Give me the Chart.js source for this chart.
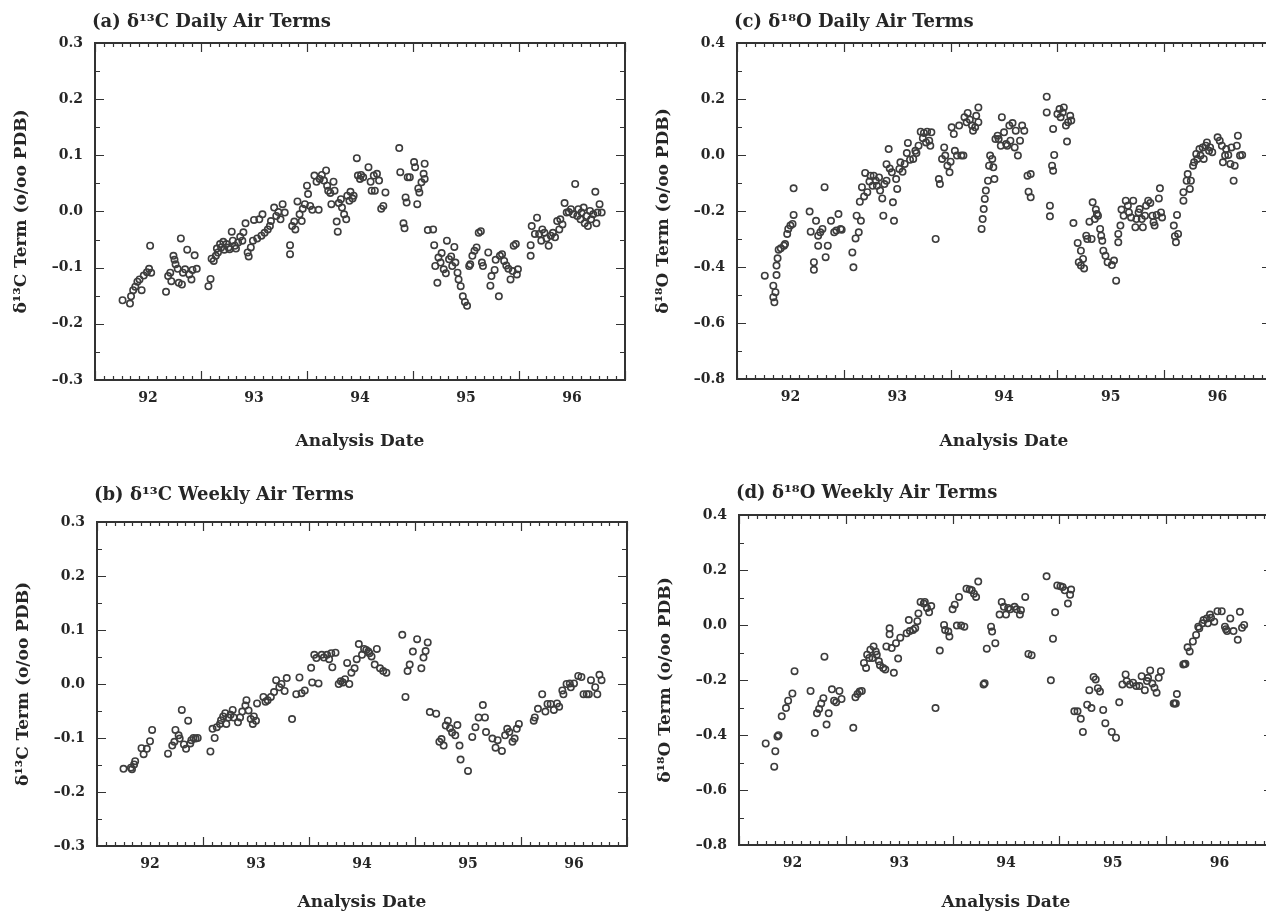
<!DOCTYPE html>
<html lang="en">
<head>
<meta charset="UTF-8">
<title>δ13C and δ18O Air Terms</title>
<script src="https://cdn.jsdelivr.net/npm/chart.js"></script>
<style>
    html, body { margin: 0; padding: 0; background: #fff; overflow: hidden; }
    body { width: 1266px; height: 913px; position: relative; }
    canvas { position: absolute; }
</style>
</head>
<body>
<canvas id="panelA"></canvas>
<canvas id="panelB"></canvas>
<canvas id="panelC"></canvas>
<canvas id="panelD"></canvas>
<script>
// axis labels
const yearLabels = [92, 93, 94, 95, 96]
const carbonTicks = [-0.3, -0.2, -0.1, 0, 0.1, 0.2, 0.3]
const oxygenTicks = [-0.8, -0.6, -0.4, -0.2, 0, 0.2, 0.4]

// (a) daily d13C air terms
const dailyC13Year = [
    91.76,91.83,91.84,91.86,91.88,91.90,91.92,91.94,91.96,91.99,92.01,92.02,92.03,
    92.17,92.19,92.21,92.22,92.24,92.25,92.26,92.28,92.29,92.31,92.32,92.33,92.35,92.37,92.39,92.41,92.42,92.44,92.46,
    92.57,92.59,92.60,92.62,92.64,92.65,92.66,92.68,92.69,92.71,92.72,92.74,92.76,92.77,92.79,92.80,92.82,92.83,92.85,92.87,92.89,92.90,92.92,92.94,92.95,92.97,92.99,93.00,93.03,93.05,93.07,93.08,93.10,93.13,93.15,93.16,93.19,93.21,93.23,93.25,93.27,93.29,
    93.34,93.34,93.36,93.38,93.39,93.41,93.43,93.45,93.46,93.48,93.50,93.51,93.53,93.55,93.57,93.59,93.61,93.62,93.64,93.66,93.68,93.69,93.70,93.72,93.73,93.75,93.76,93.78,93.79,93.80,93.82,93.83,93.85,93.87,93.88,93.90,93.91,93.93,93.94,
    93.97,93.98,94.00,94.01,94.03,94.08,94.10,94.11,94.13,94.14,94.16,94.18,94.20,94.22,94.24,
    94.37,94.38,94.41,94.42,94.43,94.44,94.45,94.47,94.51,94.52,94.54,94.55,94.56,94.58,94.60,94.61,94.61,
    94.64,94.69,94.70,94.71,94.73,94.74,94.76,94.77,94.79,94.81,94.82,94.84,94.86,94.87,94.89,94.90,94.92,94.93,94.95,94.97,94.99,95.01,
    95.03,95.04,95.06,95.08,95.10,95.12,95.14,95.15,95.16,
    95.21,95.23,95.24,95.27,95.28,95.31,95.32,95.34,95.36,95.38,95.40,95.42,95.44,95.45,95.47,95.48,95.49,
    95.61,95.61,95.62,95.65,95.67,95.69,95.71,95.72,95.74,95.76,95.78,95.80,95.82,95.84,95.86,95.88,95.89,95.91,95.93,95.95,
    95.97,95.99,96.01,96.03,96.05,96.06,96.08,96.09,96.11,96.12,96.14,96.15,96.17,96.18,96.20,96.22,96.23,96.24,96.26,96.28
]
const dailyC13Term = [
    -0.158,-0.164,-0.151,-0.140,-0.134,-0.125,-0.121,-0.140,-0.114,-0.108,-0.102,-0.061,-0.109,
    -0.143,-0.115,-0.109,-0.124,-0.079,-0.086,-0.094,-0.102,-0.127,-0.048,-0.130,-0.109,-0.103,-0.068,-0.112,-0.121,-0.104,-0.078,-0.102,
    -0.133,-0.120,-0.084,-0.088,-0.079,-0.066,-0.073,-0.058,-0.064,-0.054,-0.068,-0.058,-0.064,-0.067,-0.036,-0.052,-0.061,-0.066,-0.055,-0.045,-0.052,-0.037,-0.021,-0.073,-0.080,-0.064,-0.052,-0.015,-0.048,-0.014,-0.043,-0.005,-0.038,-0.032,-0.026,-0.017,0.007,-0.008,-0.001,-0.014,0.013,-0.002,
    -0.060,-0.076,-0.026,-0.018,-0.032,0.018,-0.005,-0.017,0.005,0.013,0.046,0.031,0.010,0.003,0.064,0.053,0.003,0.058,0.065,0.055,0.073,0.046,0.037,0.033,0.013,0.053,0.037,-0.018,-0.036,0.015,0.022,0.007,-0.005,-0.014,0.028,0.019,0.035,0.023,0.028,
    0.095,0.064,0.058,0.065,0.061,0.079,0.053,0.037,0.064,0.037,0.067,0.055,0.005,0.010,0.034,
    0.113,0.070,-0.021,-0.030,0.025,0.016,0.061,0.061,0.088,0.079,0.013,0.041,0.034,0.052,0.067,0.085,0.058,
    -0.033,-0.032,-0.060,-0.097,-0.127,-0.082,-0.091,-0.074,-0.103,-0.110,-0.052,-0.085,-0.080,-0.097,-0.063,-0.091,-0.109,-0.121,-0.133,-0.151,-0.161,-0.168,
    -0.097,-0.094,-0.079,-0.070,-0.064,-0.038,-0.035,-0.091,-0.097,
    -0.073,-0.132,-0.115,-0.104,-0.086,-0.151,-0.079,-0.076,-0.088,-0.096,-0.102,-0.121,-0.106,-0.061,-0.058,-0.112,-0.103,
    -0.060,-0.079,-0.026,-0.040,-0.011,-0.040,-0.052,-0.032,-0.038,-0.048,-0.061,-0.043,-0.038,-0.046,-0.017,-0.032,-0.014,-0.023,0.015,-0.002,
    -0.001,0.004,-0.005,0.049,-0.008,0.004,-0.014,-0.002,0.007,-0.021,-0.008,-0.026,0.001,-0.014,-0.005,0.035,-0.021,-0.002,0.013,-0.002
]

// (b) weekly d13C air terms
const weeklyC13Year = [
    91.75,91.82,91.83,91.85,91.86,91.92,91.94,91.97,92.00,92.02,
    92.17,92.21,92.23,92.24,92.27,92.28,92.30,92.32,92.34,92.36,92.38,92.39,92.41,92.43,92.45,
    92.57,92.59,92.61,92.63,92.66,92.67,92.69,92.71,92.72,92.74,92.76,92.78,92.79,92.83,92.85,92.87,92.90,92.91,92.93,92.95,92.97,92.98,93.00,93.01,93.07,93.09,93.11,93.14,93.17,93.19,93.22,93.24,93.27,93.29,
    93.34,93.38,93.41,93.43,93.46,93.52,93.53,93.55,93.57,93.59,93.62,93.64,93.67,93.69,93.71,93.72,93.75,
    93.78,93.80,93.82,93.84,93.86,93.88,93.90,93.93,93.95,93.97,94.00,94.02,94.04,94.06,94.07,94.09,94.12,94.14,94.17,94.20,94.23,
    94.38,94.41,94.43,94.45,94.48,94.52,94.56,94.58,94.60,94.62,
    94.64,94.70,94.73,94.75,94.77,94.79,94.81,94.83,94.85,94.88,94.90,94.92,94.93,95.00,
    95.04,95.07,95.10,95.14,95.16,95.17,95.23,95.26,95.28,95.32,95.35,95.37,95.39,95.42,95.44,95.46,95.48,
    95.62,95.63,95.66,95.70,95.73,95.75,95.78,95.81,95.84,95.86,95.89,95.90,95.93,95.96,95.97,96.00,96.04,96.07,96.09,96.12,96.14,96.16,96.20,96.22,96.24,96.26
]
const weeklyC13Term = [
    -0.157,-0.155,-0.158,-0.149,-0.143,-0.119,-0.130,-0.120,-0.106,-0.085,
    -0.129,-0.114,-0.107,-0.085,-0.095,-0.101,-0.048,-0.112,-0.120,-0.068,-0.110,-0.104,-0.100,-0.101,-0.100,
    -0.125,-0.083,-0.100,-0.080,-0.074,-0.067,-0.060,-0.054,-0.074,-0.062,-0.057,-0.048,-0.062,-0.071,-0.062,-0.051,-0.040,-0.030,-0.049,-0.065,-0.074,-0.060,-0.068,-0.036,-0.024,-0.033,-0.030,-0.024,-0.015,0.007,-0.006,0.000,-0.013,0.011,
    -0.065,-0.019,0.012,-0.017,-0.012,0.030,0.003,0.054,0.048,0.001,0.054,0.049,0.054,0.046,0.057,0.031,0.058,
    0.000,0.005,0.003,0.009,0.039,0.000,0.021,0.029,0.046,0.074,0.054,0.065,0.063,0.060,0.057,0.051,0.036,0.065,0.029,0.024,0.021,
    0.091,-0.024,0.024,0.036,0.060,0.083,0.029,0.049,0.061,0.077,
    -0.052,-0.055,-0.107,-0.102,-0.114,-0.077,-0.068,-0.082,-0.090,-0.095,-0.076,-0.114,-0.140,-0.161,
    -0.098,-0.080,-0.062,-0.039,-0.062,-0.089,-0.101,-0.118,-0.104,-0.124,-0.095,-0.083,-0.089,-0.107,-0.101,-0.083,-0.074,
    -0.068,-0.062,-0.046,-0.019,-0.051,-0.037,-0.037,-0.048,-0.036,-0.042,-0.012,-0.019,0.000,0.001,-0.006,0.001,0.015,0.013,-0.019,-0.019,-0.019,0.007,-0.006,-0.019,0.017,0.007
]

// (c) daily d18O air terms
const dailyO18Year = [
    91.76,91.84,91.84,91.85,91.86,91.87,91.87,91.88,91.89,91.91,91.94,91.95,91.97,91.98,92.00,92.02,92.03,92.03,
    92.18,92.19,92.22,92.22,92.24,92.26,92.26,92.28,92.30,92.32,92.33,92.35,92.38,92.41,92.43,92.45,92.47,92.48,
    92.58,92.59,92.61,92.62,92.64,92.65,92.66,92.67,92.69,92.70,92.72,92.74,92.75,92.77,92.78,92.80,92.81,92.83,92.84,92.86,92.87,92.88,92.90,92.90,92.92,92.93,92.95,92.96,92.97,92.99,93.00,93.02,93.03,93.05,93.07,93.09,93.10,93.12,93.15,93.17,93.18,93.20,93.22,93.24,93.25,93.27,93.28,93.30,93.31,93.32,
    93.36,93.39,93.40,93.42,93.44,93.45,93.47,93.49,93.50,93.51,93.53,93.54,93.56,93.58,93.60,93.62,93.63,93.65,93.66,93.68,93.70,93.71,93.73,93.74,93.76,93.76,
    93.79,93.80,93.81,93.82,93.83,93.85,93.86,93.87,93.89,93.90,93.91,93.92,93.94,93.95,93.97,93.98,94.00,94.02,94.03,94.05,94.06,94.08,94.10,94.11,94.13,94.15,94.17,94.19,
    94.22,94.23,94.25,94.25,
    94.40,94.40,94.43,94.43,94.45,94.46,94.46,94.47,94.50,94.52,94.53,94.55,94.56,94.58,94.59,94.60,94.62,94.63,
    94.65,94.69,94.70,94.72,94.72,94.74,94.75,94.77,94.78,94.80,94.82,94.83,94.85,94.86,94.87,94.88,94.90,94.91,94.92,94.93,94.95,94.97,95.01,95.03,95.05,
    95.07,95.07,95.09,95.10,95.12,95.14,95.16,95.17,95.19,95.21,95.23,95.24,95.26,95.27,95.29,95.30,95.32,95.33,95.35,95.37,95.39,95.40,95.41,95.43,95.45,95.46,95.47,95.48,
    95.59,95.60,95.61,95.62,95.63,95.68,95.68,95.71,95.72,95.74,95.75,95.77,95.78,95.80,95.81,95.83,95.84,95.86,95.87,95.89,95.90,95.92,95.93,95.95,
    96.00,96.02,96.04,96.05,96.07,96.08,96.10,96.12,96.13,96.15,96.16,96.18,96.19,96.21,96.23
]
const dailyO18Term = [
    -0.431,-0.467,-0.508,-0.526,-0.490,-0.429,-0.395,-0.369,-0.338,-0.333,-0.324,-0.318,-0.282,-0.264,-0.252,-0.246,-0.214,-0.119,
    -0.202,-0.274,-0.383,-0.410,-0.235,-0.288,-0.324,-0.276,-0.264,-0.115,-0.365,-0.324,-0.235,-0.276,-0.270,-0.211,-0.264,-0.267,
    -0.348,-0.401,-0.298,-0.217,-0.276,-0.167,-0.235,-0.115,-0.148,-0.064,-0.133,-0.095,-0.074,-0.110,-0.074,-0.092,-0.110,-0.080,-0.127,-0.155,-0.217,-0.104,-0.092,-0.033,0.021,-0.048,-0.062,-0.169,-0.235,-0.086,-0.121,-0.050,-0.026,-0.060,-0.032,0.007,0.043,-0.017,-0.014,0.015,0.007,0.033,0.083,0.060,0.079,0.045,0.083,0.051,0.033,0.081,
    -0.300,-0.086,-0.104,-0.014,0.027,-0.002,-0.038,-0.062,-0.024,0.099,0.075,0.015,-0.002,0.105,-0.002,-0.002,0.135,0.117,0.150,0.126,0.105,0.087,0.099,0.140,0.170,0.117,
    -0.264,-0.229,-0.193,-0.157,-0.127,-0.092,-0.038,-0.002,-0.014,-0.044,-0.086,0.057,0.069,0.057,0.033,0.135,0.081,0.039,0.033,0.105,0.051,0.114,0.027,0.087,-0.002,0.051,0.105,0.087,
    -0.074,-0.131,-0.068,-0.151,
    0.208,0.152,-0.181,-0.219,-0.038,-0.056,0.093,0.000,0.146,0.164,0.135,0.152,0.170,0.105,0.048,0.117,0.140,0.123,
    -0.243,-0.314,-0.383,-0.342,-0.395,-0.371,-0.405,-0.288,-0.300,-0.238,-0.300,-0.169,-0.229,-0.195,-0.211,-0.217,-0.264,-0.288,-0.306,-0.342,-0.360,-0.383,-0.393,-0.377,-0.449,
    -0.312,-0.282,-0.252,-0.195,-0.217,-0.163,-0.181,-0.205,-0.223,-0.163,-0.258,-0.229,-0.205,-0.193,-0.229,-0.258,-0.217,-0.181,-0.163,-0.171,-0.217,-0.240,-0.252,-0.214,-0.155,-0.119,-0.205,-0.223,
    -0.252,-0.290,-0.312,-0.214,-0.282,-0.163,-0.133,-0.092,-0.068,-0.121,-0.092,-0.038,-0.026,0.004,-0.014,0.021,-0.002,0.027,-0.014,0.033,0.045,0.015,0.027,0.010,
    0.063,0.051,0.033,-0.026,-0.002,0.021,0.000,-0.032,0.027,-0.092,-0.038,0.033,0.069,-0.002,0.000
]

// (d) weekly d18O air terms
const weeklyO18Year = [
    91.75,91.83,91.84,91.86,91.87,91.90,91.94,91.96,92.00,92.02,
    92.17,92.21,92.23,92.25,92.27,92.29,92.30,92.32,92.34,92.37,92.39,92.41,92.44,92.46,
    92.57,92.59,92.61,92.63,92.65,92.67,92.69,92.70,92.72,92.73,92.75,92.76,92.78,92.79,92.81,92.82,92.85,92.87,92.88,92.91,92.91,92.93,92.95,92.97,92.99,93.01,93.07,93.09,93.10,93.13,93.15,93.17,93.18,93.20,93.23,93.24,93.26,93.28,93.30,
    93.34,93.38,93.42,93.43,93.46,93.47,93.50,93.52,93.54,93.56,93.58,93.61,93.63,93.66,93.68,93.70,93.72,93.74,
    93.79,93.80,93.82,93.86,93.87,93.90,93.94,93.96,93.98,94.00,94.02,94.04,94.08,94.10,94.13,94.14,94.18,94.21,94.24,
    94.38,94.42,94.44,94.46,94.48,94.51,94.53,94.55,94.58,94.60,94.61,
    94.64,94.67,94.70,94.72,94.76,94.78,94.80,94.82,94.84,94.86,94.88,94.91,94.93,94.99,95.03,
    95.06,95.09,95.12,95.13,95.16,95.19,95.22,95.25,95.27,95.30,95.32,95.33,95.35,95.37,95.39,95.41,95.43,95.45,
    95.57,95.58,95.59,95.60,95.66,95.67,95.68,95.70,95.72,95.75,95.78,95.80,95.81,95.84,95.85,95.88,95.89,95.91,95.92,95.95,95.98,96.02,96.05,96.06,96.07,96.10,96.13,96.17,96.19,96.21,96.23
]
const weeklyO18Term = [
    -0.431,-0.515,-0.459,-0.405,-0.401,-0.332,-0.302,-0.275,-0.249,-0.168,
    -0.240,-0.393,-0.321,-0.305,-0.285,-0.266,-0.115,-0.362,-0.321,-0.234,-0.275,-0.281,-0.240,-0.269,
    -0.374,-0.263,-0.251,-0.242,-0.240,-0.138,-0.156,-0.108,-0.120,-0.090,-0.120,-0.078,-0.096,-0.108,-0.132,-0.146,-0.156,-0.162,-0.078,-0.034,-0.012,-0.084,-0.174,-0.066,-0.122,-0.046,-0.030,0.018,-0.022,-0.018,-0.012,0.014,0.042,0.084,0.078,0.084,0.062,0.046,0.069,
    -0.302,-0.093,0.000,-0.018,-0.024,-0.042,0.057,0.074,-0.002,0.102,-0.002,-0.006,0.132,0.129,0.126,0.114,0.102,0.158,
    -0.216,-0.212,-0.086,-0.006,-0.024,-0.066,0.038,0.084,0.066,0.038,0.062,0.057,0.066,0.057,0.038,0.054,0.102,-0.105,-0.110,
    0.177,-0.201,-0.050,0.046,0.144,0.141,0.138,0.126,0.078,0.110,0.129,
    -0.314,-0.314,-0.341,-0.389,-0.290,-0.237,-0.302,-0.189,-0.198,-0.230,-0.242,-0.309,-0.357,-0.389,-0.410,
    -0.281,-0.216,-0.180,-0.204,-0.216,-0.210,-0.222,-0.222,-0.186,-0.237,-0.204,-0.192,-0.165,-0.213,-0.228,-0.246,-0.192,-0.168,
    -0.285,-0.285,-0.285,-0.251,-0.144,-0.142,-0.141,-0.081,-0.096,-0.060,-0.036,-0.006,-0.012,0.006,0.018,0.024,0.006,0.038,0.026,0.012,0.050,0.050,-0.006,-0.015,-0.022,0.024,-0.022,-0.054,0.048,-0.010,0.000
]

const serif = "'DejaVu Serif', 'Liberation Serif', serif"
const ink = '#262626'

// box frame with small inward ticks: months on x, half steps on y
const frameTicks = {
    id: 'frameTicks',
    afterDatasetsDraw(chart, args, opts) {
        const {ctx, chartArea: a} = chart
        const x = chart.scales.x, y = chart.scales.y
        ctx.save()
        ctx.strokeStyle = '#333'
        ctx.lineWidth = 1.2
        ctx.beginPath()
        for (let m = 0; m <= 60; m++) {
            const px = Math.round(x.getPixelForValue(x.min + m / 12)) + 0.5
            const len = m % 12 === 0 ? 9 : 4
            ctx.moveTo(px, a.bottom); ctx.lineTo(px, a.bottom - len)
            ctx.moveTo(px, a.top); ctx.lineTo(px, a.top + len)
        }
        const steps = Math.round((y.max - y.min) / opts.minorStep)
        for (let i = 0; i <= steps; i++) {
            const py = Math.round(y.getPixelForValue(y.min + i * opts.minorStep)) + 0.5
            const len = i % 2 === 0 ? 9 : 5
            ctx.moveTo(a.left, py); ctx.lineTo(a.left + len, py)
            ctx.moveTo(a.right, py); ctx.lineTo(a.right - len, py)
        }
        ctx.stroke()
        ctx.lineWidth = 2
        ctx.strokeRect(a.left, a.top, a.right - a.left, a.bottom - a.top)
        ctx.restore()
    }
}

// panel heading, left aligned with the plot box
const panelTitle = {
    id: 'panelTitle',
    afterDraw(chart, args, opts) {
        const ctx = chart.ctx
        ctx.save()
        ctx.fillStyle = ink
        ctx.font = 'bold 18px ' + serif
        ctx.textBaseline = 'middle'
        ctx.textAlign = 'left'
        ctx.fillText(opts.text, chart.chartArea.left - 3, chart.chartArea.top - opts.gap)
        ctx.restore()
    }
}

function fmt(v) {
    if (Math.abs(v) < 1e-9) return '0.0'
    return v < 0 ? '\u2013' + (-v).toFixed(1) : v.toFixed(1)
}

function makePanel(id, box, title, gap, dateGap, yTitle, years, terms, yTicks, minorStep) {
    const canvas = document.getElementById(id)
    const padL = 0, padT = 43, padR = 15, axisW = 95, axisH = 75
    canvas.style.left = (box.left - axisW) + 'px'
    canvas.style.top = (box.top - padT) + 'px'
    canvas.width = box.right - box.left + axisW + padR
    canvas.height = box.bottom - box.top + padT + axisH

    const points = years.map((yr, i) => ({x: yr, y: terms[i]}))

    new Chart(canvas, {
        type: 'scatter',
        data: {
            datasets: [{
                data: points,
                pointStyle: 'circle',
                pointRadius: 3.2,
                pointBorderWidth: 1.6,
                pointBorderColor: '#3d3d3d',
                pointBackgroundColor: 'rgba(0,0,0,0)'
            }]
        },
        options: {
            responsive: false,
            animation: false,
            events: [],
            layout: {autoPadding: false, padding: {left: padL, top: padT, right: padR, bottom: 0}},
            plugins: {
                legend: {display: false},
                tooltip: {enabled: false},
                frameTicks: {minorStep: minorStep},
                panelTitle: {text: title, gap: gap}
            },
            scales: {
                x: {
                    type: 'linear',
                    min: 91.5,
                    max: 96.5,
                    afterBuildTicks: s => { s.ticks = yearLabels.map(v => ({value: v})) },
                    afterFit: s => { s.height = axisH },
                    grid: {display: false, drawTicks: false},
                    border: {display: false},
                    ticks: {
                        autoSkip: false,
                        maxRotation: 0,
                        padding: 10,
                        color: ink,
                        font: {family: serif, size: 14, weight: 'bold'},
                        callback: v => String(v)
                    },
                    title: {
                        display: true,
                        text: 'Analysis Date',
                        color: ink,
                        font: {family: serif, size: 17, weight: 'bold'},
                        padding: {top: 0, bottom: axisH - 10.2 - dateGap}
                    }
                },
                y: {
                    type: 'linear',
                    min: yTicks[0],
                    max: yTicks[yTicks.length - 1],
                    afterBuildTicks: s => { s.ticks = yTicks.map(v => ({value: v})) },
                    afterFit: s => { s.width = axisW },
                    grid: {display: false, drawTicks: false},
                    border: {display: false},
                    ticks: {
                        autoSkip: false,
                        padding: 12,
                        color: ink,
                        font: {family: serif, size: 14, weight: 'bold'},
                        callback: v => fmt(v)
                    },
                    title: {
                        display: true,
                        text: yTitle,
                        color: ink,
                        font: {family: serif, size: 17, weight: 'bold'},
                        padding: {top: 11, bottom: 0}
                    }
                }
            }
        },
        plugins: [frameTicks, panelTitle]
    })
}

makePanel('panelA', {left: 95, top: 43, right: 625, bottom: 380},
    '(a) \u03b4\u00b9\u00b3C Daily Air Terms', 21, 62, '\u03b4\u00b9\u00b3C Term (o/oo PDB)',
    dailyC13Year, dailyC13Term, carbonTicks, 0.05)
makePanel('panelB', {left: 97, top: 522, right: 627, bottom: 846},
    '(b) \u03b4\u00b9\u00b3C Weekly Air Terms', 27, 57, '\u03b4\u00b9\u00b3C Term (o/oo PDB)',
    weeklyC13Year, weeklyC13Term, carbonTicks, 0.05)
makePanel('panelC', {left: 737, top: 43, right: 1271, bottom: 379},
    '(c) \u03b4\u00b9\u2078O Daily Air Terms', 21, 63, '\u03b4\u00b9\u2078O Term (o/oo PDB)',
    dailyO18Year, dailyO18Term, oxygenTicks, 0.1)
makePanel('panelD', {left: 739, top: 515, right: 1273, bottom: 845},
    '(d) \u03b4\u00b9\u2078O Weekly Air Terms', 22, 58, '\u03b4\u00b9\u2078O Term (o/oo PDB)',
    weeklyO18Year, weeklyO18Term, oxygenTicks, 0.1)
</script>
</body>
</html>
